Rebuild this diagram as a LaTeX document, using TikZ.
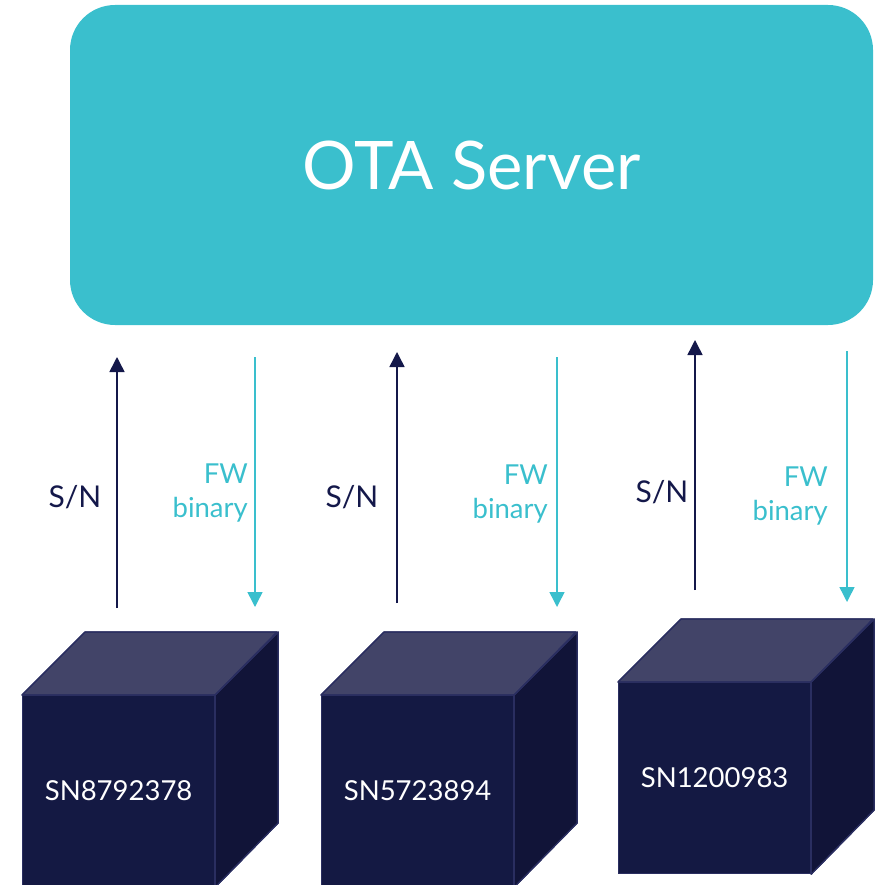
\documentclass[tikz,border=0pt]{standalone}
\usepackage{fontspec}
\setmainfont{Lato}
\usetikzlibrary{arrows.meta}
\definecolor{srvcol}{HTML}{3ABFCD}
\definecolor{navycol}{HTML}{14184A}
\definecolor{frontcol}{HTML}{141943}
\definecolor{topcol}{HTML}{424468}
\definecolor{sidecol}{HTML}{111438}
\definecolor{edgecol}{HTML}{2A2E60}
\tikzset{
  server/.style={fill=srvcol, rounded corners=45pt, text=white, font=\fontsize{67}{80}\selectfont, inner sep=0pt},
  front/.style={fill=frontcol, draw=edgecol, line width=1.2pt, minimum width=192pt, minimum height=191pt, anchor=north west, text=white, font=\fontsize{27.5}{30}\selectfont, inner sep=0pt},
  topface/.style={fill=topcol, draw=edgecol, line width=1.2pt, line join=round},
  sideface/.style={fill=sidecol, draw=edgecol, line width=1.2pt, line join=round},
  uparrow/.style={draw=navycol, line width=1.5pt, -{Triangle[width=15pt,length=15pt]}},
  downarrow/.style={draw=srvcol, line width=1.5pt, -{Triangle[width=15pt,length=15pt]}},
  snlabel/.style={text=navycol, font=\fontsize{30}{34}\selectfont, inner sep=0pt},
  fwlabel/.style={text=srvcol, font=\fontsize{27.5}{34}\selectfont, align=right, anchor=east, inner sep=0pt},
}
\newcommand{\mycube}[4]{%
  \node[front] (#1) at (#2,#3) {#4};
  \fill[topface] (#1.north west) -- ++(63,-63) -- ++(192,0) -- (#1.north east) -- cycle;
  \fill[sideface] (#1.north east) -- ++(63,-63) -- ++(0,191) -- (#1.south east) -- cycle;
  \draw[topface,fill=none] (#1.north west) -- ++(63,-63) -- ++(192,0) -- (#1.north east) -- cycle;
  \draw[sideface,fill=none] (#1.north east) -- ++(63,-63) -- ++(0,191) -- (#1.south east) -- cycle;
}
\begin{document}
\begin{tikzpicture}[x=1pt,y=-1pt]
\useasboundingbox (0,0) rectangle (884,885);
\node[server, minimum width=803pt, minimum height=320pt] (srv) at (471.5,165) {OTA Server};

\mycube{c1}{22}{695}{SN8792378}
\mycube{c2}{321}{695}{SN5723894}
\mycube{c3}{618}{682}{SN1200983}

% arrow endpoints
\coordinate (u1s) at (117,608); \coordinate (u1e) at (117,357);
\coordinate (d1s) at (255,357); \coordinate (d1e) at (255,607);
\coordinate (u2s) at (397,603); \coordinate (u2e) at (397,352);
\coordinate (d2s) at (557,357); \coordinate (d2e) at (557,607);
\coordinate (u3s) at (695,590); \coordinate (u3e) at (695,340);
\coordinate (d3s) at (847,351); \coordinate (d3e) at (847,602);

\draw[uparrow] (u1s) -- (u1e);
\draw[downarrow] (d1s) -- (d1e);
\draw[uparrow] (u2s) -- (u2e);
\draw[downarrow] (d2s) -- (d2e);
\draw[uparrow] (u3s) -- (u3e);
\draw[downarrow] (d3s) -- (d3e);

\node[snlabel] (sn1) at (75,497) {S/N};
\node[snlabel] (sn2) at (352,497) {S/N};
\node[snlabel] (sn3) at (662,492) {S/N};
\node[fwlabel] (fw1) at (248,493) {FW\\binary};
\node[fwlabel] (fw2) at (548,494) {FW\\binary};
\node[fwlabel] (fw3) at (828,496) {FW\\binary};
\end{tikzpicture}
\end{document}
